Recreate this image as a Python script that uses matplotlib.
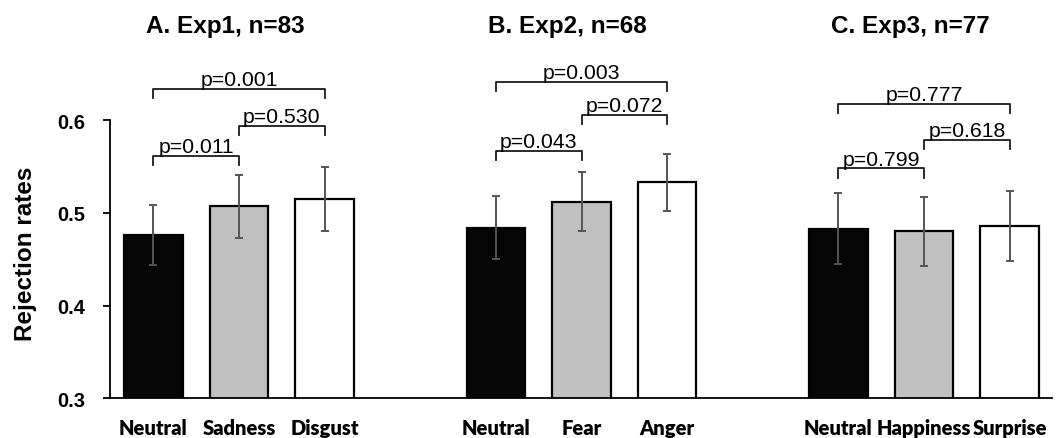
import matplotlib
matplotlib.use('Agg')
import matplotlib.pyplot as plt
import numpy as np

# ---- data ----
group_titles = ['A. Exp1, n=83', 'B. Exp2, n=68', 'C. Exp3, n=77']
categories = [['Neutral', 'Sadness', 'Disgust'],
              ['Neutral', 'Fear', 'Anger'],
              ['Neutral', 'Happiness', 'Surprise']]
means = [[0.476, 0.507, 0.515],
         [0.484, 0.512, 0.533],
         [0.483, 0.480, 0.486]]
errors = [[0.032, 0.034, 0.035],
          [0.034, 0.032, 0.031],
          [0.038, 0.037, 0.038]]
# comparisons: (i, j, label, bracket level)
comparisons = [
    [(0, 1, 'p=0.011', 0.5614), (1, 2, 'p=0.530', 0.5937), (0, 2, 'p=0.001', 0.634)],
    [(0, 1, 'p=0.043', 0.5667), (1, 2, 'p=0.072', 0.6056), (0, 2, 'p=0.003', 0.6415)],
    [(0, 1, 'p=0.799', 0.5480), (1, 2, 'p=0.618', 0.5786), (0, 2, 'p=0.777', 0.6175)],
]
y_ticks = [0.3, 0.4, 0.5, 0.6]
y_label = 'Rejection rates'

# ---- style ----
face_colors = ['#060606', '#c0c0c0', '#ffffff']
sans = ['Liberation Sans', 'DejaVu Sans']
cat_font = ['Lato', 'DejaVu Sans']

fig = plt.figure(figsize=(10.57, 4.39), dpi=100)
ax = fig.add_axes([0.1041, 0.0904, 0.8912, 0.8025])

bar_w = 0.683
positions = []
labels = []
for g in range(3):
    xs = np.arange(3) + 4 * g
    positions.extend(xs)
    labels.extend(categories[g])
    ax.bar(xs, means[g], width=bar_w, bottom=0, color=face_colors,
           edgecolor='black', linewidth=1.6, zorder=2)
    ax.errorbar(xs, means[g], yerr=errors[g], fmt='none', ecolor='#555555',
                elinewidth=1.4, capsize=3, capthick=1.4, zorder=3)
    for i, j, lab, lev in comparisons[g]:
        x0, x1 = xs[i], xs[j]
        ax.plot([x0, x0, x1, x1], [lev - 0.010, lev, lev, lev - 0.010],
                color='#1a1a1a', linewidth=1.3, zorder=3, clip_on=False)
        ax.text((x0 + x1) / 2, lev + 0.004, lab, ha='center', va='baseline',
                fontsize=15.3, family=sans, color='black')
    ax.text(xs[1] - 0.16, 0.695, group_titles[g], ha='center', va='baseline',
            fontsize=17.5, fontweight='bold', family=sans)

ax.set_xlim(-0.506, 10.495)
ax.set_ylim(0.3, 0.68)
ax.set_xticks(positions)
ax.set_xticklabels(labels, fontsize=14.5, fontweight='heavy', family=cat_font)
ax.tick_params(axis='x', length=0, pad=14)
ax.set_yticks(y_ticks)
ax.set_yticklabels([f'{t:.1f}' for t in y_ticks], fontsize=14.5,
                   fontweight='bold', family=sans)
ax.tick_params(axis='y', length=5, width=1.3, pad=13)
ax.set_ylabel(y_label, fontsize=17.5, fontweight='bold', family=sans)
ax.yaxis.set_label_coords(-0.078, 0.412)

for s in ['top', 'right']:
    ax.spines[s].set_visible(False)
ax.spines['left'].set_bounds(0.3, 0.6)
ax.spines['left'].set_linewidth(1.3)
ax.spines['bottom'].set_linewidth(1.3)

fig.savefig('out.png', dpi=100)
